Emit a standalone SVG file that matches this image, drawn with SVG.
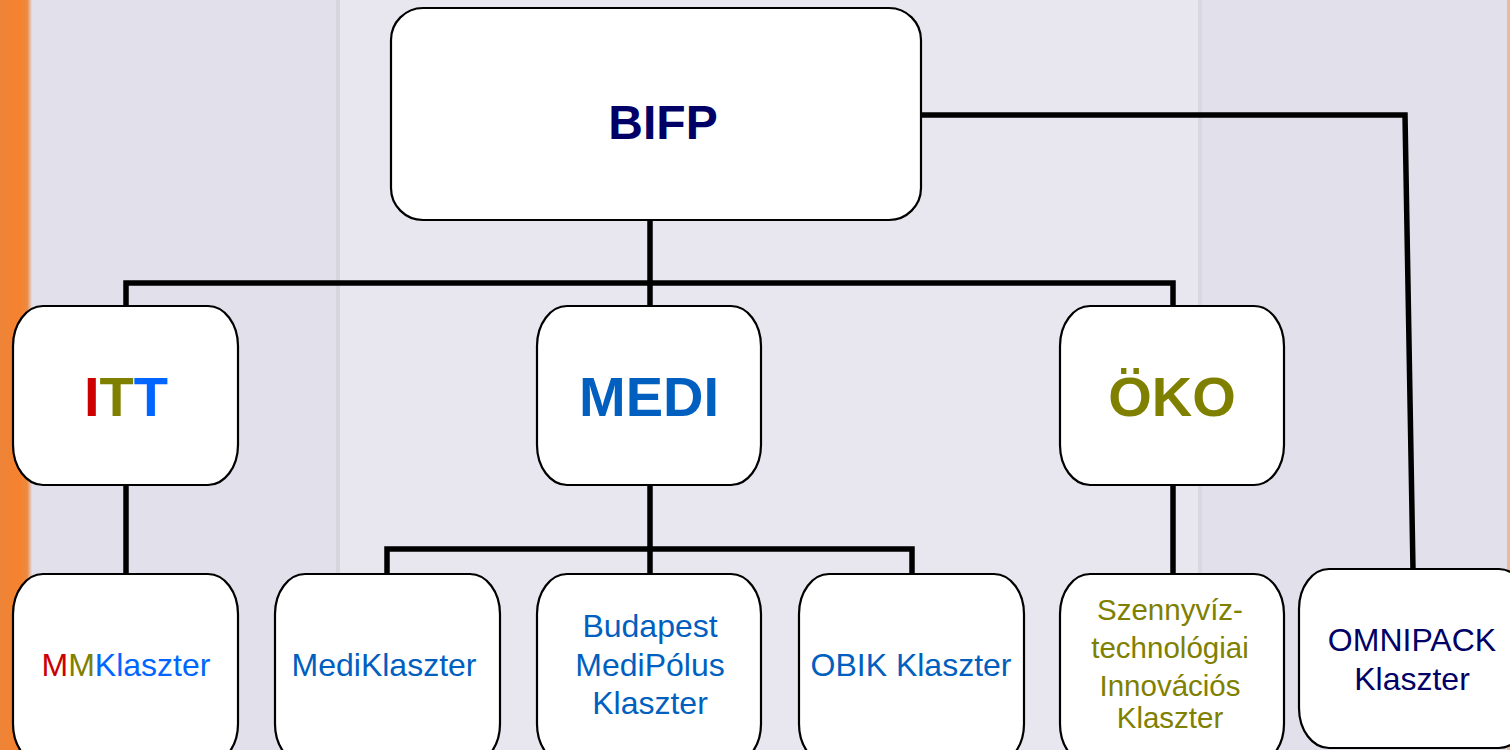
<svg xmlns="http://www.w3.org/2000/svg" width="1510" height="750" viewBox="0 0 1510 750">
<defs>
<linearGradient id="org" x1="0" x2="1" y1="0" y2="0">
<stop offset="0" stop-color="#ee8438"/>
<stop offset="0.6" stop-color="#f5822f"/>
<stop offset="0.85" stop-color="#ec8a3e"/>
<stop offset="1" stop-color="#e1dcea"/>
</linearGradient>
</defs>
<style>
.box{fill:#ffffff;stroke:#000000;stroke-width:2.2}
.con{fill:none;stroke:#000000;stroke-width:5.5;stroke-linejoin:miter;stroke-linecap:butt}
text{font-family:"Liberation Sans",Arial,sans-serif;text-anchor:middle}
.big{font-weight:bold}
.blue{fill:#005fbf}
.olive{fill:#808000}
.navy{fill:#000066}
.sm{font-size:32px}
.sz{font-size:29.5px}
</style>
<rect x="0" y="0" width="1510" height="750" fill="#e1e0eb"/>
<rect x="340" y="0" width="860" height="750" fill="#e8e7ef"/>
<rect x="336" y="0" width="4" height="750" fill="#d6d5dd"/>
<rect x="1198" y="0" width="4" height="750" fill="#d9d8e0"/>
<rect x="0" y="0" width="32" height="750" fill="url(#org)"/>
<rect x="1507" y="0" width="3" height="750" fill="#f0b89a"/>

<g id="connectors">
<polyline class="con" points="650,220 650,307"/>
<polyline class="con" points="126,307 126,283 1173,283 1173,307"/>
<polyline class="con" points="921,115 1405,115 1413,570"/>
<polyline class="con" points="126,485 126,575"/>
<polyline class="con" points="650,485 650,575"/>
<polyline class="con" points="387,575 387,549 912,549 912,575"/>
<polyline class="con" points="1173,485 1173,575"/>
</g>

<g id="bifp">
<rect class="box" x="391" y="8" width="530" height="212" rx="32" ry="32"/>
<text class="big navy" x="663" y="139" font-size="48">BIFP</text>
</g>
<g id="itt">
<rect class="box" x="13" y="306" width="225" height="179" rx="30" ry="40"/>
<text class="big" x="126" y="416" font-size="56"><tspan fill="#cc0000">I</tspan><tspan fill="#808000">T</tspan><tspan fill="#0066ff">T</tspan></text>
</g>
<g id="medi">
<rect class="box" x="537" y="306" width="224" height="179" rx="30" ry="40"/>
<text class="big blue" x="649" y="416" font-size="56">MEDI</text>
</g>
<g id="oko">
<rect class="box" x="1060" y="306" width="224" height="179" rx="30" ry="40"/>
<text class="big olive" x="1172" y="416" font-size="56">ÖKO</text>
</g>
<g id="mmklaszter">
<rect class="box" x="13" y="574" width="225" height="190" rx="30" ry="40"/>
<text class="sm" x="126" y="676"><tspan fill="#cc0000">M</tspan><tspan fill="#808000">M</tspan><tspan fill="#0066ff">Klaszter</tspan></text>
</g>
<g id="mediklaszter">
<rect class="box" x="275" y="574" width="225" height="190" rx="30" ry="40"/>
<text class="sm blue" x="384" y="676">MediKlaszter</text>
</g>
<g id="budapest">
<rect class="box" x="537" y="574" width="224" height="190" rx="30" ry="40"/>
<text class="sm blue" x="650" y="637">Budapest</text>
<text class="sm blue" x="650" y="676">MediPólus</text>
<text class="sm blue" x="650" y="714">Klaszter</text>
</g>
<g id="obik">
<rect class="box" x="799" y="574" width="225" height="190" rx="30" ry="40"/>
<text class="sm blue" x="911" y="676">OBIK Klaszter</text>
</g>
<g id="szennyviz">
<rect class="box" x="1060" y="574" width="224" height="190" rx="30" ry="40"/>
<text class="sz olive" x="1170" y="620">Szennyvíz-</text>
<text class="sz olive" x="1170" y="658">technológiai</text>
<text class="sz olive" x="1170" y="696">Innovációs</text>
<text class="sz olive" x="1170" y="728">Klaszter</text>
</g>
<g id="omnipack">
<rect class="box" x="1299" y="569" width="230" height="179" rx="30" ry="40"/>
<text class="sm navy" x="1412" y="651">OMNIPACK</text>
<text class="sm navy" x="1412" y="690">Klaszter</text>
</g>
</svg>
